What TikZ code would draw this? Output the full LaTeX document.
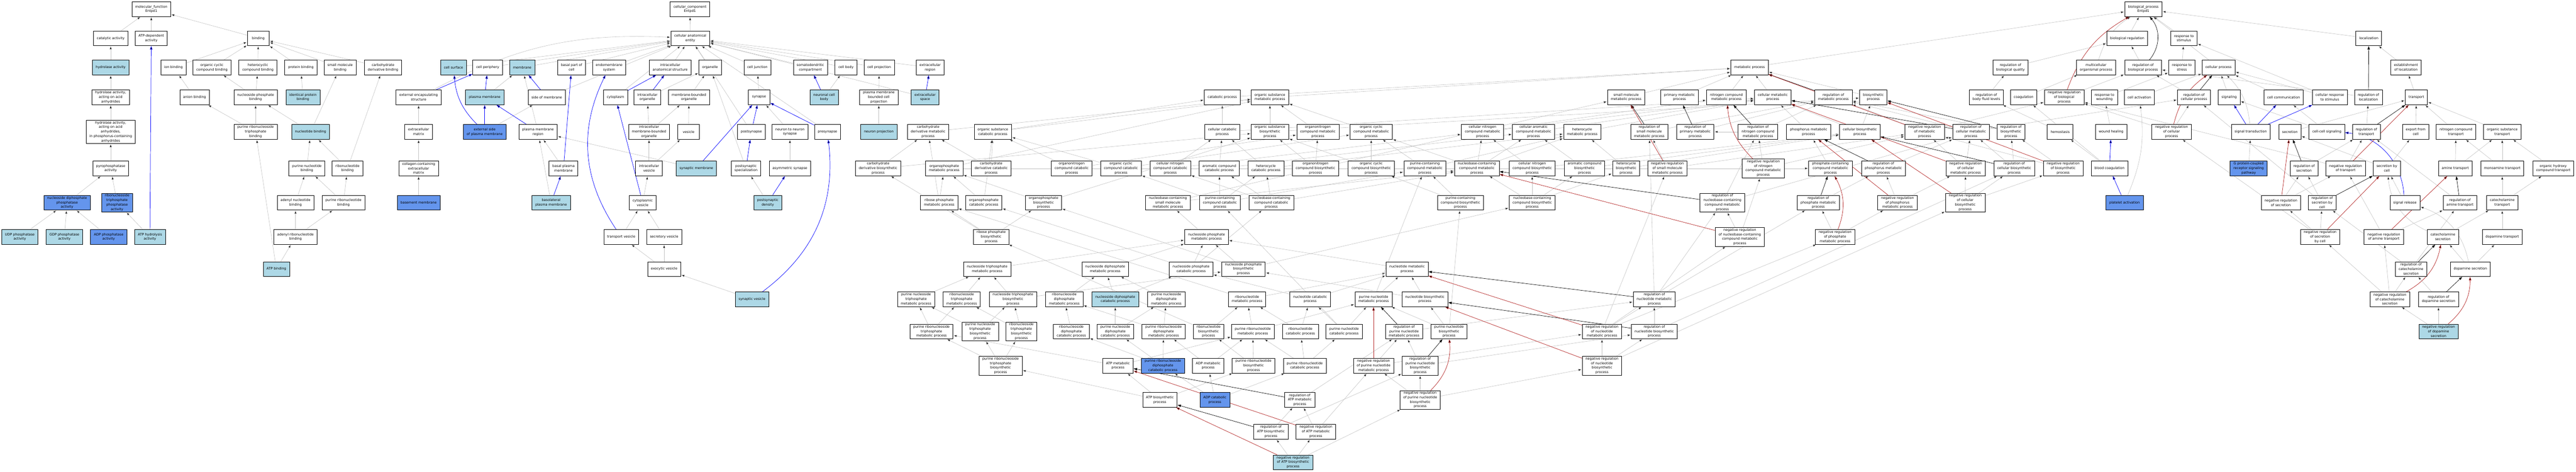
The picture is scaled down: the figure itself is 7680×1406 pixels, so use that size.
\documentclass[tikz,border=0pt]{standalone}
\usepackage{fontspec}
\setmainfont{DejaVu Sans}
\usepackage{tikz}
\usetikzlibrary{arrows.meta}
\usetikzlibrary{backgrounds}
\definecolor{hitblue}{HTML}{ADD8E6}
\definecolor{sigblue}{HTML}{6495ED}
\definecolor{edgegray}{HTML}{C0C0C0}
\definecolor{negred}{HTML}{B22222}
\tikzset{
  goterm/.style={draw, rectangle, fill=white, align=center, line width=0.9pt,
    font=\fontsize{10}{13.4}\selectfont, inner xsep=10pt, inner ysep=3pt,
    minimum height=44pt, minimum width=65pt},
  gohit/.style={goterm, fill=hitblue},
  gosig/.style={goterm, fill=sigblue},
  isa/.style={draw=edgegray, line width=0.9pt, shorten >=1pt, -{Triangle[length=10pt,width=7pt]}},
  partof/.style={isa, draw=blue, line width=1.1pt},
  regby/.style={isa, draw=black, line width=1pt},
  negby/.style={isa, draw=negred, line width=1.1pt}
}
\begin{document}
\begin{tikzpicture}[x=1pt,y=-1pt]
\useasboundingbox (0,0) rectangle (7680,1406);
\node[goterm] (mf) at (451,27) {molecular\_function\\Entpd1};
\node[goterm] (cat) at (330,114) {catalytic activity};
\node[goterm] (atpdep) at (451,114) {ATP-dependent\\activity};
\node[goterm] (bind) at (770,114) {binding};
\node[gohit] (hyd) at (330,201) {hydrolase activity};
\node[goterm] (ionb) at (517,201) {ion binding};
\node[goterm] (ocb) at (632,201) {organic cyclic\\compound binding};
\node[goterm] (hcb) at (769,201) {heterocyclic\\compound binding};
\node[goterm] (protb) at (897,201) {protein binding};
\node[goterm] (smb) at (1014,201) {small molecule\\binding};
\node[goterm] (cdb) at (1142,201) {carbohydrate\\derivative binding};
\node[goterm] (hydaa) at (330,290) {hydrolase activity,\\acting on acid\\anhydrides};
\node[goterm] (anb) at (580,290) {anion binding};
\node[goterm] (npb) at (762,290) {nucleoside phosphate\\binding};
\node[gohit] (ipb) at (903,290) {identical protein\\binding};
\node[goterm] (hydaap) at (330,393) {hydrolase activity,\\acting on acid\\anhydrides,\\in phosphorus-containing\\anhydrides};
\node[goterm] (prtpb) at (762,393) {purine ribonucleoside\\triphosphate\\binding};
\node[gohit] (ntb) at (926,393) {nucleotide binding};
\node[goterm] (ppase) at (330,502) {pyrophosphatase\\activity};
\node[goterm] (pnb) at (915,502) {purine nucleotide\\binding};
\node[goterm] (rnb) at (1036,502) {ribonucleotide\\binding};
\node[gosig] (ndpase) at (200,604) {nucleoside diphosphate\\phosphatase\\activity};
\node[gosig] (rntpase) at (349,604) {ribonucleoside\\triphosphate\\phosphatase\\activity};
\node[goterm] (adnb) at (881,604) {adenyl nucleotide\\binding};
\node[goterm] (prnb) at (1024,604) {purine ribonucleotide\\binding};
\node[gohit] (udp) at (59,706) {UDP phosphatase\\activity};
\node[gohit] (gdp) at (192,706) {GDP phosphatase\\activity};
\node[gosig] (adp) at (324,706) {ADP phosphatase\\activity};
\node[gohit] (atph) at (447,706) {ATP hydrolysis\\activity};
\node[goterm] (arnb) at (881,706) {adenyl ribonucleotide\\binding};
\node[gohit] (atpb) at (824,802) {ATP binding};
\node[goterm] (cc) at (2057,27) {cellular\_component\\Entpd1};
\node[goterm] (cae) at (2058,114) {cellular anatomical\\entity};
\node[gohit] (csurf) at (1352,201) {cell surface};
\node[goterm] (cper) at (1454,201) {cell periphery};
\node[gohit] (memb) at (1557,201) {membrane};
\node[goterm] (bpc) at (1704,201) {basal part of\\cell};
\node[goterm] (endo) at (1816,201) {endomembrane\\system};
\node[goterm] (ias) at (1998,201) {intracellular\\anatomical structure};
\node[goterm] (org) at (2117,201) {organelle};
\node[goterm] (cj) at (2258,201) {cell junction};
\node[goterm] (sdc) at (2416,201) {somatodendritic\\compartment};
\node[goterm] (cbody) at (2522,201) {cell body};
\node[goterm] (cproj) at (2621,201) {cell projection};
\node[goterm] (ecr) at (2773,201) {extracellular\\region};
\node[goterm] (ees) at (1248,290) {external encapsulating\\structure};
\node[gohit] (pm) at (1445,290) {plasma membrane};
\node[goterm] (som) at (1630,290) {side of membrane};
\node[goterm] (cyto) at (1835,290) {cytoplasm};
\node[goterm] (io) at (1930,290) {intracellular\\organelle};
\node[goterm] (mbo) at (2054,290) {membrane-bounded\\organelle};
\node[goterm] (syn) at (2263,290) {synapse};
\node[gohit] (ncb) at (2457,290) {neuronal cell\\body};
\node[goterm] (pmbcp) at (2620,290) {plasma membrane\\bounded cell\\projection};
\node[gohit] (ecs) at (2758,290) {extracellular\\space};
\node[goterm] (ecm) at (1248,393) {extracellular\\matrix};
\node[gosig] (espm) at (1445,393) {external side\\of plasma membrane};
\node[goterm] (pmr) at (1604,393) {plasma membrane\\region};
\node[goterm] (imbo) at (1935,393) {intracellular\\membrane-bounded\\organelle};
\node[goterm] (ves) at (2053,393) {vesicle};
\node[goterm] (postsyn) at (2240,393) {postsynapse};
\node[goterm] (nns) at (2355,393) {neuron to neuron\\synapse};
\node[goterm] (presyn) at (2467,393) {presynapse};
\node[gohit] (nproj) at (2620,393) {neuron projection};
\node[goterm] (ccecm) at (1248,502) {collagen-containing\\extracellular\\matrix};
\node[goterm] (bpm) at (1680,502) {basal plasma\\membrane};
\node[goterm] (iv) at (1935,502) {intracellular\\vesicle};
\node[gohit] (synm) at (2076,502) {synaptic membrane};
\node[goterm] (pss) at (2224,502) {postsynaptic\\specialization};
\node[goterm] (asyn) at (2355,502) {asymmetric synapse};
\node[gosig] (bm) at (1248,604) {basement membrane};
\node[gohit] (blpm) at (1643,604) {basolateral\\plasma membrane};
\node[goterm] (cv) at (1916,604) {cytoplasmic\\vesicle};
\node[gohit] (psd) at (2289,604) {postsynaptic\\density};
\node[goterm] (tv) at (1852,706) {transport vesicle};
\node[goterm] (sv) at (1980,706) {secretory vesicle};
\node[goterm] (exv) at (1980,802) {exocytic vesicle};
\node[gohit] (synv) at (2242,892) {synaptic vesicle};
\node[goterm] (bp) at (6390,27) {biological\_process\\Entpd1};
\node[goterm] (breg) at (6342,114) {biological regulation};
\node[goterm] (rstim) at (6511,114) {response to\\stimulus};
\node[goterm] (loc) at (7062,114) {localization};
\node[goterm] (mp) at (5216,201) {metabolic process};
\node[goterm] (rbq) at (5994,201) {regulation of\\biological quality};
\node[goterm] (mop) at (6249,201) {multicellular\\organismal process};
\node[goterm] (rbp) at (6389,201) {regulation of\\biological process};
\node[goterm] (rstress) at (6505,201) {response to\\stress};
\node[goterm] (cp) at (6614,201) {cellular process};
\node[goterm] (eloc) at (7173,201) {establishment\\of localization};
\node[goterm] (catp) at (3644,290) {catabolic process};
\node[goterm] (osmp) at (3786,290) {organic substance\\metabolic process};
\node[goterm] (smmp) at (4848,290) {small molecule\\metabolic process};
\node[goterm] (pmp) at (5007,290) {primary metabolic\\process};
\node[goterm] (ncmp) at (5147,290) {nitrogen compound\\metabolic process};
\node[goterm] (cmp) at (5285,290) {cellular metabolic\\process};
\node[goterm] (rmp) at (5466,290) {regulation of\\metabolic process};
\node[goterm] (bsp) at (5585,290) {biosynthetic\\process};
\node[goterm] (rbfl) at (5922,290) {regulation of\\body fluid levels};
\node[goterm] (coag) at (6033,290) {coagulation};
\node[goterm] (nrbp) at (6154,290) {negative regulation\\of biological\\process};
\node[goterm] (rwound) at (6274,290) {response to\\wounding};
\node[goterm] (cact) at (6378,290) {cell activation};
\node[goterm] (rcp) at (6541,290) {regulation of\\cellular process};
\node[goterm] (sig) at (6646,290) {signaling};
\node[goterm] (ccom) at (6808,290) {cell communication};
\node[goterm] (crstim) at (6946,290) {cellular response\\to stimulus};
\node[goterm] (rloc) at (7061,290) {regulation of\\localization};
\node[goterm] (transp) at (7204,290) {transport};
\node[goterm] (cdmp) at (2767,393) {carbohydrate\\derivative metabolic\\process};
\node[goterm] (oscp) at (2960,393) {organic substance\\catabolic process};
\node[goterm] (ccp) at (3644,393) {cellular catabolic\\process};
\node[goterm] (osbp) at (3786,393) {organic substance\\biosynthetic\\process};
\node[goterm] (oncmp) at (3929,393) {organonitrogen\\compound metabolic\\process};
\node[goterm] (occmp) at (4088,393) {organic cyclic\\compound metabolic\\process};
\node[goterm] (cncmp) at (4420,393) {cellular nitrogen\\compound metabolic\\process};
\node[goterm] (cacmp) at (4572,393) {cellular aromatic\\compound metabolic\\process};
\node[goterm] (hcmp) at (4717,393) {heterocycle\\metabolic process};
\node[goterm] (rsmmp) at (4917,393) {regulation of\\small molecule\\metabolic process};
\node[goterm] (rpmp) at (5054,393) {regulation of\\primary metabolic\\process};
\node[goterm] (rncmp) at (5241,393) {regulation of\\nitrogen compound\\metabolic process};
\node[goterm] (phmp) at (5392,393) {phosphorus metabolic\\process};
\node[goterm] (cbp) at (5545,393) {cellular biosynthetic\\process};
\node[goterm] (nrmp) at (5738,393) {negative regulation\\of metabolic\\process};
\node[goterm] (rcmp) at (5876,393) {regulation of\\cellular metabolic\\process};
\node[goterm] (rbsp) at (5995,393) {regulation of\\biosynthetic\\process};
\node[goterm] (hemo) at (6142,393) {hemostasis};
\node[goterm] (wheal) at (6294,393) {wound healing};
\node[goterm] (nrcp) at (6474,393) {negative regulation\\of cellular\\process};
\node[goterm] (st) at (6710,393) {signal transduction};
\node[goterm] (secr) at (6827,393) {secretion};
\node[goterm] (ccsig) at (6937,393) {cell-cell signaling};
\node[goterm] (rtransp) at (7055,393) {regulation of\\transport};
\node[goterm] (efc) at (7202,393) {export from\\cell};
\node[goterm] (nct) at (7322,393) {nitrogen compound\\transport};
\node[goterm] (ost) at (7460,393) {organic substance\\transport};
\node[goterm] (cdbp) at (2618,502) {carbohydrate\\derivative biosynthetic\\process};
\node[goterm] (opmp) at (2815,502) {organophosphate\\metabolic process};
\node[goterm] (cdcp) at (2955,502) {carbohydrate\\derivative catabolic\\process};
\node[goterm] (onccp) at (3195,502) {organonitrogen\\compound catabolic\\process};
\node[goterm] (occcp) at (3342,502) {organic cyclic\\compound catabolic\\process};
\node[goterm] (cnccp) at (3489,502) {cellular nitrogen\\compound catabolic\\process};
\node[goterm] (accp) at (3635,502) {aromatic compound\\catabolic process};
\node[goterm] (hccp) at (3774,502) {heterocycle\\catabolic process};
\node[goterm] (oncbp) at (3922,502) {organonitrogen\\compound biosynthetic\\process};
\node[goterm] (occbp) at (4088,502) {organic cyclic\\compound biosynthetic\\process};
\node[goterm] (pccmp) at (4248,502) {purine-containing\\compound metabolic\\process};
\node[goterm] (nbcmp) at (4403,502) {nucleobase-containing\\compound metabolic\\process};
\node[goterm] (cncbp) at (4568,502) {cellular nitrogen\\compound biosynthetic\\process};
\node[goterm] (acbp) at (4724,502) {aromatic compound\\biosynthetic\\process};
\node[goterm] (hcbp) at (4848,502) {heterocycle\\biosynthetic\\process};
\node[goterm] (nrsmmp) at (4971,502) {negative regulation\\of small molecule\\metabolic process};
\node[goterm] (nrncmp) at (5257,502) {negative regulation\\of nitrogen\\compound metabolic\\process};
\node[goterm] (phcmp) at (5457,502) {phosphate-containing\\compound metabolic\\process};
\node[goterm] (rphmp) at (5615,502) {regulation of\\phosphorus metabolic\\process};
\node[goterm] (nrcmp) at (5860,502) {negative regulation\\of cellular\\metabolic process};
\node[goterm] (rcbp) at (6005,502) {regulation of\\cellular biosynthetic\\process};
\node[goterm] (nrbsp) at (6151,502) {negative regulation\\of biosynthetic\\process};
\node[goterm] (bcoag) at (6289,502) {blood coagulation};
\node[gosig] (gpcr) at (6704,502) {G protein-coupled\\receptor signaling\\pathway};
\node[goterm] (rsecr) at (6869,502) {regulation of\\secretion};
\node[goterm] (nrtransp) at (6993,502) {negative regulation\\of transport};
\node[goterm] (sbc) at (7116,502) {secretion by\\cell};
\node[goterm] (amt) at (7320,502) {amine transport};
\node[goterm] (mat) at (7460,502) {monoamine transport};
\node[goterm] (ohct) at (7612,502) {organic hydroxy\\compound transport};
\node[goterm] (rpmet) at (2800,604) {ribose phosphate\\metabolic process};
\node[goterm] (opcp) at (2933,604) {organophosphate\\catabolic process};
\node[goterm] (opbp) at (3111,604) {organophosphate\\biosynthetic\\process};
\node[goterm] (nsmmp) at (3482,604) {nucleobase-containing\\small molecule\\metabolic process};
\node[goterm] (pcccp) at (3637,604) {purine-containing\\compound catabolic\\process};
\node[goterm] (nbccp) at (3790,604) {nucleobase-containing\\compound catabolic\\process};
\node[goterm] (pccbp) at (4354,604) {purine-containing\\compound biosynthetic\\process};
\node[goterm] (nbcbp) at (4568,604) {nucleobase-containing\\compound biosynthetic\\process};
\node[goterm] (rnbcmp) at (5135,604) {regulation of\\nucleobase-containing\\compound metabolic\\process};
\node[goterm] (rphtmp) at (5421,604) {regulation of\\phosphate metabolic\\process};
\node[goterm] (nrphmp) at (5657,604) {negative regulation\\of phosphorus\\metabolic process};
\node[goterm] (nrcbp) at (5859,604) {negative regulation\\of cellular\\biosynthetic\\process};
\node[gosig] (plact) at (6334,604) {platelet activation};
\node[goterm] (nrsecr) at (6800,604) {negative regulation\\of secretion};
\node[goterm] (rsbc) at (6923,604) {regulation of\\secretion by\\cell};
\node[goterm] (srel) at (7170,604) {signal release};
\node[goterm] (ramt) at (7334,604) {regulation of\\amine transport};
\node[goterm] (catt) at (7460,604) {catecholamine\\transport};
\node[goterm] (rpbp) at (2955,706) {ribose phosphate\\biosynthetic\\process};
\node[goterm] (npmp) at (3597,706) {nucleoside phosphate\\metabolic process};
\node[goterm] (nrnbcmp) at (5187,706) {negative regulation\\of nucleobase-containing\\compound metabolic\\process};
\node[goterm] (nrphtmp) at (5471,706) {negative regulation\\of phosphate\\metabolic process};
\node[goterm] (nrsbc) at (6917,706) {negative regulation\\of secretion\\by cell};
\node[goterm] (nramt) at (7107,706) {negative regulation\\of amine transport};
\node[goterm] (cats) at (7283,706) {catecholamine\\secretion};
\node[goterm] (dat) at (7460,706) {dopamine transport};
\node[goterm] (ntpmp) at (2943,802) {nucleoside triphosphate\\metabolic process};
\node[goterm] (ndpmp) at (3295,802) {nucleoside diphosphate\\metabolic process};
\node[goterm] (npcp) at (3551,802) {nucleoside phosphate\\catabolic process};
\node[goterm] (npbp) at (3707,802) {nucleoside phosphate\\biosynthetic\\process};
\node[goterm] (ntmp) at (4195,802) {nucleotide metabolic\\process};
\node[goterm] (rcats) at (7188,802) {regulation of\\catecholamine\\secretion};
\node[goterm] (dsec) at (7365,802) {dopamine secretion};
\node[goterm] (pntpmp) at (2731,892) {purine nucleoside\\triphosphate\\metabolic process};
\node[goterm] (rntpmp) at (2867,892) {ribonucleoside\\triphosphate\\metabolic process};
\node[goterm] (ntpbp) at (3020,892) {nucleoside triphosphate\\biosynthetic\\process};
\node[goterm] (rndpmp) at (3173,892) {ribonucleoside\\diphosphate\\metabolic process};
\node[gohit] (ndpcp) at (3325,892) {nucleoside diphosphate\\catabolic process};
\node[goterm] (pndpmp) at (3477,892) {purine nucleoside\\diphosphate\\metabolic process};
\node[goterm] (rntmp) at (3718,892) {ribonucleotide\\metabolic process};
\node[goterm] (ntcp) at (3906,892) {nucleotide catabolic\\process};
\node[goterm] (pntmp) at (4095,892) {purine nucleotide\\metabolic process};
\node[goterm] (ntbp) at (4248,892) {nucleotide biosynthetic\\process};
\node[goterm] (rntmet) at (4932,892) {regulation of\\nucleotide metabolic\\process};
\node[goterm] (nrcats) at (7125,892) {negative regulation\\of catecholamine\\secretion};
\node[goterm] (rdsec) at (7270,892) {regulation of\\dopamine secretion};
\node[goterm] (prntpmp) at (2777,988) {purine ribonucleoside\\triphosphate\\metabolic process};
\node[goterm] (pntpbp) at (2922,988) {purine nucleoside\\triphosphate\\biosynthetic\\process};
\node[goterm] (rntpbp) at (3045,988) {ribonucleoside\\triphosphate\\biosynthetic\\process};
\node[goterm] (rndpcp) at (3194,988) {ribonucleoside\\diphosphate\\catabolic process};
\node[goterm] (pndpcp) at (3325,988) {purine nucleoside\\diphosphate\\catabolic process};
\node[goterm] (prndpmp) at (3469,988) {purine ribonucleoside\\diphosphate\\metabolic process};
\node[goterm] (rntbp) at (3603,988) {ribonucleotide\\biosynthetic\\process};
\node[goterm] (prntmp) at (3735,988) {purine ribonucleotide\\metabolic process};
\node[goterm] (rntcp) at (3877,988) {ribonucleotide\\catabolic process};
\node[goterm] (pntcp) at (4007,988) {purine nucleotide\\catabolic process};
\node[goterm] (rpntmp) at (4186,988) {regulation of\\purine nucleotide\\metabolic process};
\node[goterm] (pntbp) at (4320,988) {purine nucleotide\\biosynthetic\\process};
\node[goterm] (nrntmet) at (4776,988) {negative regulation\\of nucleotide\\metabolic process};
\node[goterm] (rntbio) at (4932,988) {regulation of\\nucleotide biosynthetic\\process};
\node[gohit] (nrdsec) at (7270,988) {negative regulation\\of dopamine\\secretion};
\node[goterm] (prntpbp) at (2983,1090) {purine ribonucleoside\\triphosphate\\biosynthetic\\process};
\node[goterm] (atpmp) at (3333,1090) {ATP metabolic\\process};
\node[gosig] (prndpcp) at (3467,1090) {purine ribonucleoside\\diphosphate\\catabolic process};
\node[goterm] (adpmp) at (3602,1090) {ADP metabolic\\process};
\node[goterm] (prntbp) at (3737,1090) {purine ribonucleotide\\biosynthetic\\process};
\node[goterm] (prntcp) at (3890,1090) {purine ribonucleotide\\catabolic process};
\node[goterm] (nrpntmp) at (4095,1090) {negative regulation\\of purine nucleotide\\metabolic process};
\node[goterm] (rpntbp) at (4234,1090) {regulation of\\purine nucleotide\\biosynthetic\\process};
\node[goterm] (nrntbio) at (4776,1090) {negative regulation\\of nucleotide\\biosynthetic\\process};
\node[goterm] (atpbp) at (3458,1192) {ATP biosynthetic\\process};
\node[gosig] (adpcp) at (3622,1192) {ADP catabolic\\process};
\node[goterm] (ratpmp) at (3875,1192) {regulation of\\ATP metabolic\\process};
\node[goterm] (nrpntbp) at (4234,1192) {negative regulation\\of purine nucleotide\\biosynthetic\\process};
\node[goterm] (ratpbp) at (3789,1287) {regulation of\\ATP biosynthetic\\process};
\node[goterm] (nratpmp) at (3923,1287) {negative regulation\\of ATP metabolic\\process};
\node[gohit] (nratpbp) at (3855,1378) {negative regulation\\of ATP biosynthetic\\process};
\begin{scope}[on background layer]
\path[isa]
  (cat) edge (mf) (atpdep) edge (mf) (bind) edge (mf) (hyd) edge (cat)
  (hydaa) edge (hyd) (hydaap) edge (hydaa) (ppase) edge (hydaap)
  (ndpase) edge (ppase) (rntpase) edge (ppase) (udp) edge (ndpase)
  (gdp) edge (ndpase) (adp) edge (ndpase) (atph) edge (rntpase)
  (ionb) edge (bind) (ocb) edge (bind) (hcb) edge (bind) (protb) edge (bind)
  (smb) edge (bind) (cdb) edge (bind) (anb) edge (ionb) (npb) edge (ocb)
  (npb) edge (hcb) (ipb) edge (protb) (prtpb) edge (anb) (prtpb) edge (npb)
  (ntb) edge (npb) (ntb) edge (smb) (pnb) edge (ntb) (rnb) edge (ntb)
  (rnb) edge (cdb) (adnb) edge (pnb) (prnb) edge (pnb) (prnb) edge (rnb)
  (arnb) edge (adnb) (arnb) edge (prnb) (atpb) edge (prtpb) (atpb) edge (arnb);
\path[isa]
  (cae) edge (cc) (ees) edge[bend left=15] (cae) (csurf) edge (cae) (cper) edge (cae)
  (memb) edge (cae) (bpc) edge (cae) (endo) edge (cae) (som) edge (cae)
  (cyto) edge (cae) (ias) edge (cae) (org) edge (cae) (cj) edge (cae)
  (sdc) edge (cae) (cbody) edge (cae) (cproj) edge (cae) (ecr) edge (cae)
  (ecs) edge (cae) (postsyn) edge (cae) (presyn) edge (cae)
  (ecm) edge (ees) (ccecm) edge (ecm) (bm) edge (ccecm)
  (pm) edge (memb) (espm) edge (som) (pmr) edge (memb) (bpm) edge (pmr)
  (blpm) edge (pmr) (synm) edge (pmr) (io) edge (org) (mbo) edge (org)
  (imbo) edge (io) (imbo) edge (mbo) (ves) edge (mbo) (iv) edge (imbo)
  (iv) edge (ves) (cv) edge (iv) (tv) edge (cv) (sv) edge (cv)
  (exv) edge (sv) (exv) edge (tv) (syn) edge (cj) (ncb) edge (cbody)
  (nns) edge (syn) (pss) edge (org) (asyn) edge (nns) (psd) edge (pss)
  (synv) edge (exv) (pmbcp) edge (cproj) (nproj) edge (pmbcp);
\path[partof]
  (atph) edge (atpdep) (ees) edge (cper) (pm) edge (cper) (som) edge (memb)
  (espm) edge[bend left=20] (csurf) (espm) edge (pm) (pmr) edge (pm) (cyto) edge (ias)
  (io) edge (ias) (bpm) edge (bpc) (blpm) edge (bpm) (cv) edge (cyto)
  (tv) edge[bend left=30] (endo) (ncb) edge (sdc) (postsyn) edge (syn) (presyn) edge (syn)
  (synm) edge (syn) (pss) edge (postsyn) (psd) edge (asyn) (synv) edge[bend right=30] (presyn)
  (ecs) edge (ecr) (bcoag) edge (wheal) (plact) edge (bcoag) (st) edge (sig)
  (st) edge (ccom) (st) edge (crstim) (srel) edge[bend right=40] (ccsig);
\path[isa]
  (mp) edge (bp) (breg) edge (bp) (rstim) edge (bp) (loc) edge (bp)
  (cp) edge (bp) (mop) edge[bend left=20] (bp) (rbp) edge (breg) (rbq) edge (breg)
  (rstress) edge (rstim) (eloc) edge (loc) (catp) edge (mp) (osmp) edge (mp)
  (smmp) edge (mp) (pmp) edge (mp) (ncmp) edge (mp) (cmp) edge (mp)
  (bsp) edge (mp) (rbfl) edge (rbq) (coag) edge (mop) (rwound) edge (rstress)
  (cact) edge (cp) (rcp) edge (rbp) (sig) edge (cp) (ccom) edge (cp)
  (crstim) edge (cp) (crstim) edge (rstim) (rloc) edge (rbp) (transp) edge (eloc)
  (cdmp) edge (osmp) (oscp) edge (catp) (oscp) edge (osmp) (ccp) edge (catp)
  (ccp) edge (cmp) (osbp) edge (osmp) (osbp) edge (bsp) (oncmp) edge (osmp)
  (occmp) edge (osmp) (cncmp) edge (ncmp) (cncmp) edge (cmp) (cacmp) edge (cmp)
  (hcmp) edge (cmp) (rsmmp) edge (rmp) (rpmp) edge (rmp) (rncmp) edge (rmp)
  (rncmp) edge (rpmp) (phmp) edge (cmp) (cbp) edge (bsp) (cbp) edge (cmp)
  (nrmp) edge (rmp) (rcmp) edge (rmp) (rcmp) edge (rcp) (rbsp) edge (rmp)
  (hemo) edge (rbfl) (wheal) edge (rwound) (nrcp) edge (rcp) (nrcp) edge (nrbp)
  (st) edge[bend right=20] (cp) (secr) edge (transp) (ccsig) edge (ccom) (ccsig) edge (sig)
  (rtransp) edge (rloc) (efc) edge (transp) (nct) edge (transp) (ost) edge (transp)
  (nrbp) edge (rbp) (nrmp) edge (nrbp);
\path[isa]
  (cdbp) edge (cdmp) (cdbp) edge (osbp) (opmp) edge (osmp) (opmp) edge (phcmp)
  (cdcp) edge (cdmp) (cdcp) edge (oscp) (onccp) edge (oncmp) (onccp) edge (oscp)
  (occcp) edge (occmp) (occcp) edge (oscp) (cnccp) edge (ccp) (cnccp) edge (cncmp)
  (accp) edge (ccp) (accp) edge (cacmp) (hccp) edge (ccp) (hccp) edge (hcmp)
  (oncbp) edge (oncmp) (oncbp) edge (osbp) (occbp) edge (occmp) (occbp) edge (osbp)
  (pccmp) edge (occmp) (pccmp) edge (hcmp) (nbcmp) edge (cncmp) (nbcmp) edge (occmp)
  (nbcmp) edge (hcmp) (nbcmp) edge (cacmp) (cncbp) edge (cncmp) (cncbp) edge (cbp)
  (acbp) edge (cacmp) (acbp) edge (cbp) (hcbp) edge (hcmp) (hcbp) edge (cbp)
  (nrsmmp) edge (rsmmp) (nrsmmp) edge (nrmp) (nrncmp) edge (rncmp) (nrncmp) edge (nrmp)
  (phcmp) edge (phmp) (rphmp) edge (rcmp) (nrcmp) edge (rcmp) (nrcmp) edge (nrmp)
  (rcbp) edge (rbsp) (rcbp) edge (rcmp) (nrbsp) edge (rbsp) (nrbsp) edge (nrmp)
  (bcoag) edge (hemo) (bcoag) edge (coag) (gpcr) edge (st) (rsecr) edge (rtransp)
  (nrtransp) edge (rtransp) (nrtransp) edge (nrbp) (sbc) edge (secr) (sbc) edge (efc)
  (amt) edge (nct) (amt) edge (ost) (mat) edge (nct) (mat) edge (ost) (ohct) edge (ost);
\path[isa]
  (rpmet) edge (opmp) (rpmet) edge (cdmp) (opcp) edge (opmp) (opcp) edge (oscp)
  (opbp) edge (opmp) (opbp) edge (osbp) (nsmmp) edge (smmp) (nsmmp) edge (nbcmp)
  (pcccp) edge (accp) (pcccp) edge (hccp) (pcccp) edge (occcp) (pcccp) edge (pccmp)
  (nbccp) edge (cnccp) (nbccp) edge (hccp) (nbccp) edge (accp) (nbccp) edge (nbcmp)
  (pccbp) edge (pccmp) (pccbp) edge (occbp) (nbcbp) edge (cncbp) (nbcbp) edge (acbp)
  (nbcbp) edge (hcbp) (nbcbp) edge (nbcmp) (rnbcmp) edge (rncmp) (rnbcmp) edge (rcmp)
  (rphtmp) edge (rphmp) (nrphmp) edge (rphmp) (nrphmp) edge (nrcmp) (nrcbp) edge (nrcmp)
  (nrcbp) edge (rcbp) (nrcbp) edge (nrbsp) (plact) edge[bend right=15] (cact) (nrsecr) edge (rsecr)
  (nrsecr) edge (nrtransp) (rsbc) edge (rsecr) (rsbc) edge (rcp) (srel) edge (sbc)
  (ramt) edge (rtransp) (catt) edge (mat) (catt) edge (ohct)
  (rpbp) edge (rpmet) (rpbp) edge (opbp) (rpbp) edge (cdbp) (npmp) edge (nsmmp)
  (nrnbcmp) edge (rnbcmp) (nrnbcmp) edge (nrncmp) (nrphtmp) edge (rphtmp)
  (nrphtmp) edge (nrphmp) (nrsbc) edge (nrsecr) (nrsbc) edge (rsbc) (nrsbc) edge (nrcp)
  (nramt) edge (ramt) (nramt) edge (nrtransp) (cats) edge (catt) (cats) edge[bend left=30] (sbc)
  (dat) edge (catt);
\path[isa]
  (ntpmp) edge (npmp) (ndpmp) edge (npmp) (npcp) edge (npmp) (npcp) edge (nbccp)
  (npcp) edge (opcp) (npbp) edge (npmp) (npbp) edge (nbcbp) (npbp) edge (opbp)
  (ntmp) edge (npmp) (rcats) edge (ramt) (rcats) edge (rsbc) (dsec) edge (cats)
  (dsec) edge (dat) (dsec) edge[bend right=30] (srel)
  (pntpmp) edge (ntpmp) (rntpmp) edge (ntpmp) (ntpbp) edge (ntpmp) (ntpbp) edge (npbp)
  (rndpmp) edge (ndpmp) (pndpmp) edge (ndpmp) (ndpcp) edge (ndpmp) (ndpcp) edge (npcp)
  (rntmp) edge (rpmet) (rntmp) edge (ntmp) (ntcp) edge (ntmp) (ntcp) edge (npcp)
  (pntmp) edge (ntmp) (pntmp) edge (pccmp) (ntbp) edge (ntmp) (ntbp) edge (npbp)
  (nrcats) edge (nramt) (nrcats) edge (rcats) (nrcats) edge (nrsbc) (rdsec) edge (rcats)
  (rntmet) edge (rnbcmp) (rntmet) edge (rsmmp) (rntmet) edge (rphtmp);
\path[isa]
  (prntpmp) edge (pntpmp) (prntpmp) edge (rntpmp) (pntpbp) edge (pntpmp)
  (pntpbp) edge (ntpbp) (rntpbp) edge (rntpmp) (rntpbp) edge (ntpbp)
  (rndpcp) edge (rndpmp) (pndpcp) edge (ndpcp) (pndpcp) edge (pndpmp)
  (prndpmp) edge (pndpmp) (prndpmp) edge (rndpmp) (rntbp) edge (rntmp) (rntbp) edge (rpbp)
  (prntmp) edge (rntmp) (prntmp) edge (pntmp) (rntcp) edge (rntmp) (rntcp) edge (ntcp)
  (pntcp) edge (ntcp) (pntcp) edge (pntmp) (pntcp) edge (pcccp) (pntbp) edge (ntbp)
  (pntbp) edge (pntmp) (pntbp) edge (pccbp) (nrntmet) edge (rntmet) (nrntmet) edge (nrsmmp)
  (nrntmet) edge (nrnbcmp) (nrntmet) edge (nrphtmp) (rntbio) edge (rntmet) (rntbio) edge (rcbp)
  (nrdsec) edge (rdsec) (nrdsec) edge (nrcats) (rpntmp) edge (rntmet)
  (prntpbp) edge (prntpmp) (prntpbp) edge (pntpbp) (prntpbp) edge (rntpbp)
  (atpmp) edge (prntpmp) (atpmp) edge (prntmp) (prndpcp) edge (pndpcp)
  (prndpcp) edge (prndpmp) (prndpcp) edge (rndpcp) (adpmp) edge (prndpmp) (adpmp) edge (prntmp)
  (prntbp) edge (prntmp) (prntbp) edge (rntbp) (prntcp) edge (prntmp) (prntcp) edge (rntcp)
  (prntcp) edge (pntcp) (nrpntmp) edge (rpntmp) (nrpntmp) edge (nrntmet)
  (rpntbp) edge (rpntmp) (rpntbp) edge (rntbio) (nrntbio) edge (nrntmet)
  (nrntbio) edge (rntbio) (nrntbio) edge (nrcbp)
  (atpbp) edge (atpmp) (atpbp) edge (prntbp) (atpbp) edge (prntpbp) (adpcp) edge (adpmp)
  (adpcp) edge (prndpcp) (adpcp) edge (prntcp) (ratpmp) edge (rpntmp)
  (nrpntbp) edge (rpntbp) (nrpntbp) edge (nrpntmp) (nrpntbp) edge (nrntbio)
  (ratpbp) edge (ratpmp) (ratpbp) edge (rpntbp) (nratpmp) edge (ratpmp)
  (nratpmp) edge (nrpntmp) (nratpbp) edge (ratpbp) (nratpbp) edge (nratpmp)
  (nratpbp) edge (nrpntbp);
\path[regby]
  (rbp) edge[bend right=40] (bp) (rcp) edge (cp) (rmp) edge (mp) (rsmmp) edge (smmp)
  (rpmp) edge (pmp) (rncmp) edge (ncmp) (rbsp) edge (bsp) (rcmp) edge (cmp)
  (rcbp) edge (cbp) (rphmp) edge (phmp) (rphtmp) edge (phcmp) (rnbcmp) edge (nbcmp)
  (rntmet) edge (ntmp) (rntbio) edge (ntbp) (rpntmp) edge (pntmp) (rpntbp) edge (pntbp)
  (ratpmp) edge (atpmp) (ratpbp) edge (atpbp) (rloc) edge (loc) (rtransp) edge (transp)
  (rsecr) edge (secr) (rsbc) edge (sbc) (ramt) edge (amt) (rcats) edge (cats)
  (rdsec) edge (dsec);
\path[negby]
  (nrbp) edge[bend left=20] (bp) (nrcp) edge[bend left=20] (cp) (nrmp) edge (mp) (nrsmmp) edge (smmp)
  (nrncmp) edge[bend left=20] (ncmp) (nrbsp) edge (bsp) (nrcmp) edge (cmp) (nrcbp) edge (cbp)
  (nrphmp) edge (phmp) (nrphtmp) edge[bend right=25] (phcmp) (nrnbcmp) edge (nbcmp) (nrntmet) edge (ntmp)
  (nrntbio) edge (ntbp) (nrpntmp) edge (pntmp) (nrpntbp) edge[bend right=25] (pntbp)
  (nratpmp) edge (atpmp) (nratpbp) edge (atpbp) (nrtransp) edge (transp)
  (nrsecr) edge (secr) (nrsbc) edge (sbc) (nramt) edge (amt)
  (nrcats) edge[bend right=25] (cats) (nrdsec) edge[bend right=25] (dsec);
\end{scope}
\end{tikzpicture}
\end{document}
